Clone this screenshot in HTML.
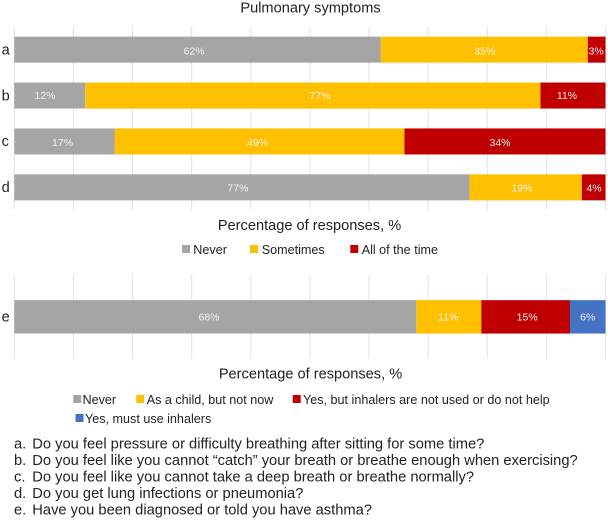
<!DOCTYPE html>
<html lang="en">
<head>
<meta charset="utf-8">
<title>Pulmonary symptoms</title>
<style>
html,body{margin:0;padding:0;background:#fff;width:608px;height:520px;overflow:hidden}
svg{display:block;font-family:"Liberation Sans",Arial,sans-serif}
</style>
</head>
<body>
<svg id="chart" xmlns="http://www.w3.org/2000/svg" width="608" height="520" viewBox="0 0 608 520">
<text x="310.5" y="12.5" font-size="14.6" fill="#222" text-anchor="middle">Pulmonary symptoms</text>
<g id="top-chart"></g>
<text x="309.5" y="230" font-size="14.6" fill="#222" text-anchor="middle">Percentage of responses, %</text>
<g id="top-legend"></g>
<g id="bottom-chart"></g>
<text x="310.5" y="378.5" font-size="14.6" fill="#222" text-anchor="middle">Percentage of responses, %</text>
<g id="bottom-legend"></g>
<g font-size="14.7" fill="#222">
<text x="14" y="448.3">a.</text><text x="32.3" y="448.3">Do you feel pressure or difficulty breathing after sitting for some time?</text>
<text x="14" y="465">b.</text><text x="32.3" y="465">Do you feel like you cannot “catch” your breath or breathe enough when exercising?</text>
<text x="14" y="481.6">c.</text><text x="32.3" y="481.6">Do you feel like you cannot take a deep breath or breathe normally?</text>
<text x="14" y="498">d.</text><text x="32.3" y="498">Do you get lung infections or pneumonia?</text>
<text x="14" y="514.4">e.</text><text x="32.3" y="514.4">Have you been diagnosed or told you have asthma?</text>
</g>
</svg>
<script>
// Top chart data
const topCategories = ['a', 'b', 'c', 'd'];
const topNever = [62, 12, 17, 77];
const topSometimes = [35, 77, 49, 19];
const topAllOfTheTime = [3, 11, 34, 4];
const topSeriesNames = ['Never', 'Sometimes', 'All of the time'];
// Bottom chart data
const bottomCategories = ['e'];
const bottomNever = [68];
const bottomAsChild = [11];
const bottomNotUsed = [15];
const bottomInhalers = [6];
const bottomSeriesNames = ['Never', 'As a child, but not now', 'Yes, but inhalers are not used or do not help', 'Yes, must use inhalers'];
const gridTicks = [0, 10, 20, 30, 40, 50, 60, 70, 80, 90, 100];

// Layout only: the source's data labels were hand-placed off the segment centres.
const labelNudge = {
  a0: [-3.5, 1.2], a1: [0.5, 1.2], a2: [-0.5, 1.2],
  b0: [-4.8, -0.6], b1: [7, -0.6], b2: [-6, -0.6],
  c0: [-2, 0.8], c1: [-2, 0.8], c2: [-5, 0.8],
  d0: [-4, 0.4], d1: [-3.7, 0.4], d2: [0.4, 0.4],
  e0: [-6.3, 0], e1: [-0.5, 0], e2: [1.5, 0], e3: [0, 0]
};

const colors = ['#a5a5a5', '#ffc000', '#c00000', '#4472c4'];
const NS = 'http://www.w3.org/2000/svg';
const X0 = 14.3, X1 = 605.5;
const xScale = v => X0 + (v / 100) * (X1 - X0);

function mk(parent, tag, attrs) {
  const el = document.createElementNS(NS, tag);
  for (const k in attrs) el.setAttribute(k, attrs[k]);
  parent.appendChild(el);
  return el;
}

function drawChart(groupId, cats, series, names, top, bottom, barH) {
  const g = document.getElementById(groupId);
  const band = (bottom - top) / cats.length;
  const yScale = i => top + band * i + (band - barH) / 2;
  gridTicks.forEach(t => {
    const l = mk(g, 'line', {x1: xScale(t), x2: xScale(t), y1: top, y2: bottom, stroke: '#e2e2e2', 'stroke-width': 1});
    
    
  });
  cats.forEach((c, i) => {
    const y = yScale(i);
    const lab = mk(g, 'text', {x: 1.6, y: y + barH / 2 + 4.7, 'font-size': 14.6, fill: '#222'});
    lab.textContent = c;
    
    
    let acc = 0;
    series.forEach((s, j) => {
      const v = s[i];
      const r = mk(g, 'rect', {x: xScale(acc), y: y, width: xScale(acc + v) - xScale(acc), height: barH, fill: colors[j]});
      
      
      const n = labelNudge[c + j] || [0, 0];
      const t = mk(g, 'text', {x: xScale(acc + v / 2) + n[0], y: y + barH / 2 + 3.8 + n[1], 'font-size': 10.5, fill: '#f2f2f2', 'text-anchor': 'middle'});
      t.textContent = v + '%';
      
      
      acc += v;
    });
  });
}

function legendEntry(groupId, label, color, sx, ty, textX) {
  const g = document.getElementById(groupId);
  const r = mk(g, 'rect', {x: sx, y: ty - 9, width: 8, height: 8, fill: color});
  
  
  const t = mk(g, 'text', {x: textX, y: ty, 'font-size': 12.6, fill: '#222'});
  t.textContent = label;
  
  
}

drawChart('top-chart', topCategories, [topNever, topSometimes, topAllOfTheTime], topSeriesNames, 26.7, 210.3, 26);
drawChart('bottom-chart', bottomCategories, [bottomNever, bottomAsChild, bottomNotUsed, bottomInhalers], bottomSeriesNames, 274.7, 359, 33.4);

legendEntry('top-legend', topSeriesNames[0], colors[0], 182, 254, 193.3);
legendEntry('top-legend', topSeriesNames[1], colors[1], 250, 254, 261.7);
legendEntry('top-legend', topSeriesNames[2], colors[2], 350.3, 254, 361.7);
legendEntry('bottom-legend', bottomSeriesNames[0], colors[0], 73.3, 404, 82.5);
legendEntry('bottom-legend', bottomSeriesNames[1], colors[1], 136.3, 404, 146.7);
legendEntry('bottom-legend', bottomSeriesNames[2], colors[2], 292.7, 404, 303);
legendEntry('bottom-legend', bottomSeriesNames[3], colors[3], 75.5, 423, 85);
</script>
</body>
</html>
